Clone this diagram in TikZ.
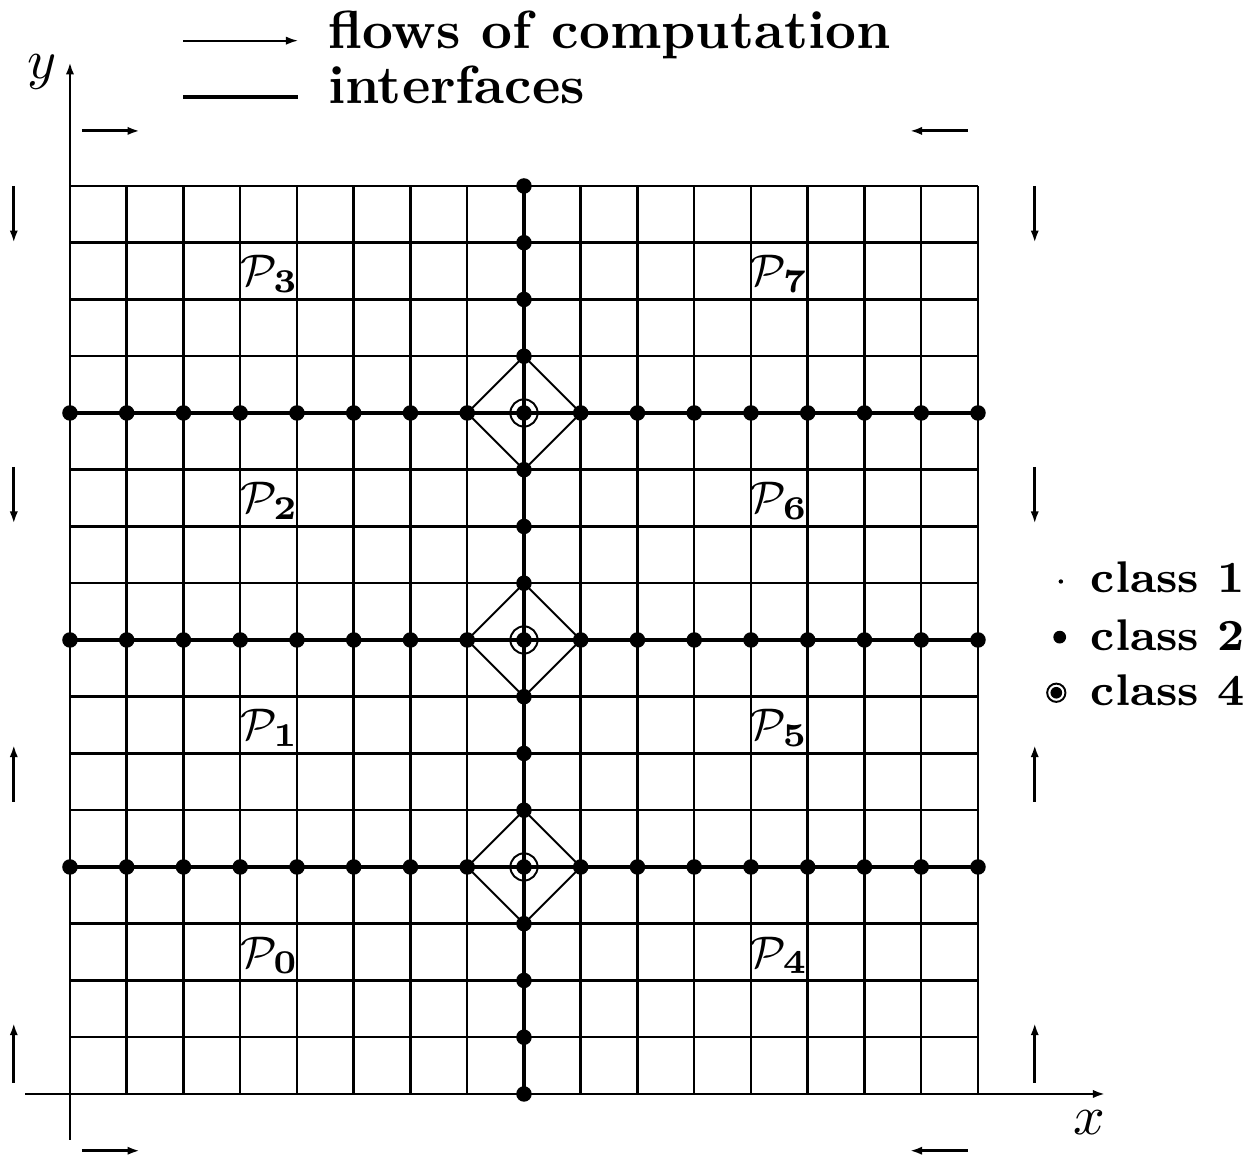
\documentclass[tikz,border=0pt]{standalone}
\usepackage{amsmath,amssymb}
\usepackage{tikz}
\usetikzlibrary{arrows.meta,positioning}

\begin{document}
\begin{tikzpicture}[
  x=0.36cm, y=0.36cm,
  grd/.style={line width=0.45pt},
  ifc/.style={line width=0.8pt},
  axs/.style={line width=0.45pt, -{Latex[length=2.2pt,width=1.5pt]}},
  flow/.style={line width=0.55pt, -{Latex[length=2.2pt,width=1.5pt]}},
  dia/.style={line width=0.35pt},
  cone/.style={circle, fill, inner sep=0pt, minimum size=0.8pt},
  ctwo/.style={circle, fill, inner sep=0pt, minimum size=2.8pt},
  cfour/.style={circle, draw, line width=0.35pt, inner sep=0pt, minimum size=4.9pt},
  lbl/.style={font=\fontsize{9.7}{12}\selectfont\bfseries, anchor=base west, inner sep=0pt},
  cls/.style={font=\fontsize{8}{10}\selectfont\bfseries, anchor=base west, inner sep=0pt},
  sub/.style={font=\fontsize{8}{10}\selectfont},
  >=Latex]
  \useasboundingbox (-1.233,-1.093) rectangle (20.846,19.277);
  % mesh
  \foreach \k in {0,...,16} {
    \draw[grd] (\k,0) -- (\k,16);
    \draw[grd] (0,\k) -- (16,\k);
  }
  % interfaces
  \foreach \j in {4,8,12}
    \draw[ifc] (0,\j) -- (16,\j);
  \draw[ifc] (8,0) -- (8,16);
  % axes
  \coordinate (xa) at (-0.79,0);
  \coordinate (xb) at (18.24,0);
  \coordinate (ya) at (0,-0.81);
  \coordinate (yb) at (0,18.18);
  \draw[axs] (xa) -- (xb);
  \draw[axs] (ya) -- (yb);
  \node (xl) at (17.97,-0.5) {$x$};
  \node (yl) at (-0.49,18.0) {$y$};
  % class 2 points on the interfaces
  \foreach \j in {4,8,12}
    \foreach \i in {0,...,7,9,10,...,16}
      \node[ctwo] (d-\i-\j) at (\i,\j) {};
  \foreach \j in {0,1,2,3,5,6,7,9,10,11,13,14,15,16}
    \node[ctwo] (d-8-\j) at (8,\j) {};
  % class 4 points and their stencils
  \foreach \j [evaluate=\j as \up using int(\j+1),
               evaluate=\j as \dn using int(\j-1)] in {4,8,12} {
    \node[ctwo] (d-8-\j) at (8,\j) {};
    \node[cfour] (q-\j) at (8,\j) {};
    \draw[dia] (d-7-\j.center) -- (d-8-\up.center) -- (d-9-\j.center)
      -- (d-8-\dn.center) -- cycle;
  }
  % subdomains
  \node[sub] (p0) at (3.52,2.45)  {$\mathcal{P}_{\mathbf{0}}$};
  \node[sub] (p1) at (3.52,6.45)  {$\mathcal{P}_{\mathbf{1}}$};
  \node[sub] (p2) at (3.52,10.45) {$\mathcal{P}_{\mathbf{2}}$};
  \node[sub] (p3) at (3.52,14.45) {$\mathcal{P}_{\mathbf{3}}$};
  \node[sub] (p4) at (12.5,2.45)  {$\mathcal{P}_{\mathbf{4}}$};
  \node[sub] (p5) at (12.5,6.45)  {$\mathcal{P}_{\mathbf{5}}$};
  \node[sub] (p6) at (12.5,10.45) {$\mathcal{P}_{\mathbf{6}}$};
  \node[sub] (p7) at (12.5,14.45) {$\mathcal{P}_{\mathbf{7}}$};
  % flows of computation
  \draw[flow] (0.21,16.97) -- (1.23,16.97);
  \draw[flow] (15.82,16.97) -- (14.8,16.97);
  \draw[flow] (0.21,-1.0) -- (1.23,-1.0);
  \draw[flow] (15.82,-1.0) -- (14.8,-1.0);
  \foreach \x in {-0.99,17.0} {
    \draw[flow] (\x,16) -- (\x,15);
    \draw[flow] (\x,11.05) -- (\x,10.05);
    \draw[flow] (\x,5.15) -- (\x,6.15);
    \draw[flow] (\x,0.2) -- (\x,1.25);
  }
  % legend
  \coordinate (la) at (2,18.56);
  \coordinate (lb) at (4.02,18.56);
  \coordinate (lc) at (2,17.57);
  \coordinate (ld) at (4.02,17.57);
  \draw[line width=0.35pt, -{Latex[length=2.2pt,width=1.5pt]}] (la) -- (lb);
  \draw[ifc] (lc) -- (ld);
  \node[lbl] (tflow) at (4.53,18.43) {flows of computation};
  \node[lbl] (tifc) at (4.53,17.45) {interfaces};
  \node[cone] (k1) at (17.46,9.03) {};
  \node[ctwo, minimum size=2.3pt] (k2) at (17.44,8.05) {};
  \node[ctwo, minimum size=2.1pt] (k4) at (17.38,7.07) {};
  \node[cfour, minimum size=3.3pt] (k4o) at (17.38,7.07) {};
  \node[cls] (t1) at (17.97,8.83) {class 1};
  \node[cls] (t2) at (17.97,7.82) {class 2};
  \node[cls] (t4) at (17.97,6.85) {class 4};
\end{tikzpicture}
\end{document}
